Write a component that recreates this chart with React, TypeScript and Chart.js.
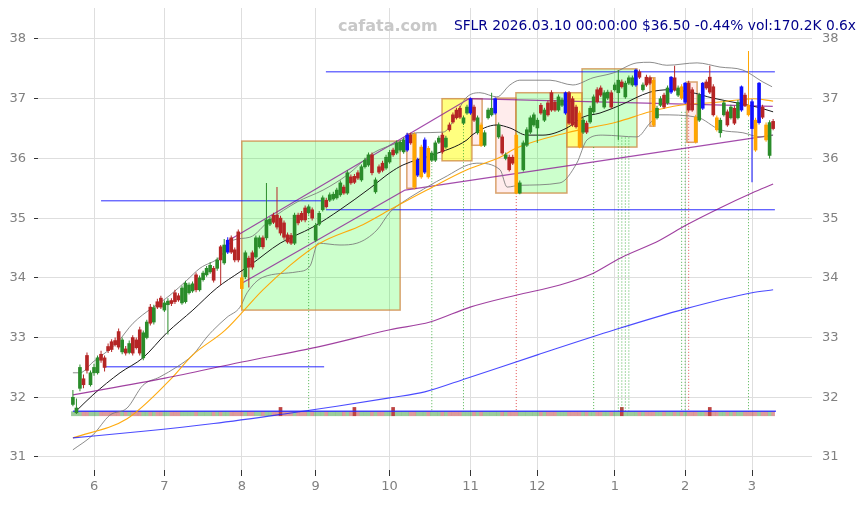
import React, { useEffect, useRef } from 'react';
import { Chart, registerables } from 'chart.js';
Chart.register(...registerables);

// ---- axes ----
const monthLabels = ['6', '7', '8', '9', '10', '11', '12', '1', '2', '3'];
const monthStartIdx = [6, 26, 48, 69, 90, 113, 132, 154, 174, 193];
const yTickValues = [31, 32, 33, 34, 35, 36, 37, 38];

// ---- candles (trading-day index 0..199) ----
const opens = [
  31.88, 31.74, 32.15, 32.31, 32.70, 32.21, 32.41, 32.41, 32.72, 32.66,
  32.85, 32.93, 32.95, 33.10, 32.76, 32.81, 32.75, 33.00, 32.96, 33.13,
  32.66, 33.00, 33.51, 33.26, 33.60, 33.66, 33.46, 33.55, 33.62, 33.75,
  33.70, 33.58, 33.60, 33.75, 33.78, 34.05, 33.80, 33.97, 34.05, 34.10,
  34.16, 34.16, 34.52, 34.25, 34.43, 34.67, 34.47, 34.77, 34.00, 34.02,
  34.33, 34.42, 34.35, 34.52, 34.67, 34.67, 34.90, 35.05, 35.05, 35.00,
  34.92, 34.72, 34.71, 34.58, 35.05, 35.08, 35.17, 35.09, 35.14, 34.63,
  34.90, 35.14, 35.30, 35.30, 35.32, 35.34, 35.39, 35.52, 35.42, 35.69,
  35.70, 35.76, 35.64, 35.86, 35.89, 36.06, 35.44, 35.86, 35.92, 35.84,
  35.94, 36.14, 36.09, 36.14, 36.11, 36.14, 36.39, 36.40, 35.72, 35.69,
  35.77, 36.17, 35.97, 35.97, 36.27, 36.39, 36.19, 36.56, 36.73, 36.81,
  36.84, 36.59, 36.76, 36.76, 36.86, 36.43, 36.56, 36.22, 36.68, 36.73,
  36.76, 36.36, 36.36, 36.00, 36.02, 36.02, 36.39, 35.42, 35.81, 36.22,
  36.44, 36.56, 36.51, 36.89, 36.64, 36.93, 37.10, 36.94, 36.81, 36.89,
  36.76, 37.10, 37.00, 36.86, 36.76, 36.44, 36.59, 36.61, 36.78, 37.15,
  37.18, 36.86, 37.01, 37.10, 37.15, 37.10, 37.28, 37.03, 37.26, 37.23,
  37.23, 37.45, 37.15, 37.36, 37.35, 37.31, 36.68, 36.89, 37.06, 36.93,
  37.11, 37.35, 37.06, 37.20, 36.94, 37.26, 37.15, 36.69, 36.64, 36.84,
  37.28, 37.36, 37.20, 36.68, 36.43, 36.73, 36.78, 36.68, 36.84, 36.68,
  36.81, 37.06, 36.89, 36.95, 36.64, 36.60, 36.86, 36.56, 36.05, 36.62,
];
const highs = [
  32.12, 31.98, 32.55, 32.38, 32.75, 32.45, 32.56, 32.70, 32.78, 32.70,
  32.90, 32.97, 33.00, 33.15, 33.00, 32.86, 32.95, 33.04, 33.00, 33.18,
  33.12, 33.30, 33.56, 33.55, 33.65, 33.70, 33.62, 33.66, 33.66, 33.80,
  33.74, 33.87, 33.95, 33.92, 33.94, 34.09, 34.04, 34.12, 34.20, 34.26,
  34.20, 34.34, 34.55, 34.65, 34.68, 34.71, 34.51, 34.81, 34.05, 34.46,
  34.37, 34.46, 34.71, 34.71, 34.71, 35.59, 35.02, 35.09, 35.52, 35.04,
  34.96, 34.76, 34.75, 35.09, 35.09, 35.12, 35.21, 35.23, 35.18, 34.92,
  35.12, 35.38, 35.34, 35.43, 35.44, 35.51, 35.63, 35.56, 35.80, 35.73,
  35.74, 35.80, 35.90, 36.01, 36.10, 36.10, 35.68, 35.90, 35.96, 36.06,
  36.14, 36.18, 36.30, 36.31, 36.35, 36.43, 36.43, 36.44, 36.01, 36.23,
  36.35, 36.21, 36.13, 36.30, 36.38, 36.43, 36.38, 36.60, 36.77, 36.85,
  36.88, 36.72, 36.90, 37.02, 36.90, 36.72, 36.60, 36.47, 36.85, 37.10,
  37.02, 36.60, 36.40, 36.10, 36.06, 36.06, 36.42, 35.63, 36.30, 36.52,
  36.72, 36.77, 36.68, 36.93, 36.85, 36.97, 37.14, 36.98, 37.07, 37.02,
  37.12, 37.13, 37.04, 36.90, 36.80, 36.68, 36.63, 36.88, 37.07, 37.19,
  37.22, 37.14, 37.15, 37.14, 37.27, 37.48, 37.32, 37.30, 37.39, 37.39,
  37.50, 37.49, 37.27, 37.40, 37.39, 37.35, 36.88, 37.04, 37.10, 37.22,
  37.38, 37.55, 37.22, 37.24, 37.28, 37.30, 37.19, 36.73, 37.10, 37.28,
  37.32, 37.55, 37.24, 36.72, 36.68, 36.97, 36.82, 36.90, 36.88, 36.98,
  37.22, 37.10, 37.80, 36.99, 36.68, 37.28, 36.90, 36.60, 36.64, 36.66,
];
const lows = [
  31.85, 31.72, 32.10, 32.15, 32.40, 32.18, 32.36, 32.38, 32.58, 32.43,
  32.74, 32.76, 32.85, 32.80, 32.72, 32.70, 32.72, 32.70, 32.80, 32.70,
  32.62, 32.97, 33.20, 33.22, 33.48, 33.48, 33.43, 33.05, 33.53, 33.56,
  33.60, 33.55, 33.57, 33.72, 33.75, 33.76, 33.77, 33.94, 34.02, 34.07,
  33.92, 34.12, 33.88, 34.22, 34.40, 34.40, 34.26, 34.26, 33.47, 33.98,
  33.84, 34.14, 34.32, 34.49, 34.48, 34.63, 34.87, 34.90, 34.81, 34.71,
  34.64, 34.57, 34.55, 34.55, 34.88, 34.94, 34.93, 35.06, 34.96, 34.60,
  34.87, 35.11, 35.16, 35.27, 35.29, 35.31, 35.36, 35.39, 35.39, 35.56,
  35.57, 35.64, 35.61, 35.83, 35.86, 35.72, 35.41, 35.74, 35.77, 35.81,
  35.91, 36.03, 36.06, 36.11, 36.08, 36.11, 36.23, 35.48, 35.69, 35.66,
  35.74, 35.66, 35.94, 35.94, 36.24, 36.08, 36.16, 36.45, 36.58, 36.65,
  36.66, 36.56, 36.73, 36.73, 36.61, 36.40, 36.19, 36.19, 36.65, 36.70,
  36.73, 36.33, 36.06, 35.97, 35.78, 35.89, 35.40, 35.40, 35.78, 36.19,
  36.41, 36.53, 36.26, 36.73, 36.61, 36.70, 36.78, 36.78, 36.78, 36.86,
  36.73, 36.56, 36.53, 36.50, 36.17, 36.41, 36.41, 36.58, 36.75, 36.92,
  37.03, 36.83, 36.98, 36.83, 37.12, 36.31, 37.17, 37.00, 37.23, 37.20,
  37.20, 37.33, 37.12, 37.20, 37.23, 36.53, 36.65, 36.86, 36.83, 36.90,
  37.08, 37.12, 37.03, 36.98, 36.91, 36.78, 36.78, 36.25, 36.61, 36.81,
  37.15, 37.08, 36.70, 36.45, 36.35, 36.70, 36.53, 36.65, 36.56, 36.65,
  36.78, 36.86, 36.70, 35.60, 36.11, 36.57, 36.66, 36.28, 36.00, 36.47,
];
const closes = [
  32.00, 31.82, 32.50, 32.21, 32.45, 32.41, 32.50, 32.66, 32.62, 32.50,
  32.78, 32.80, 32.88, 32.84, 32.96, 32.74, 32.90, 32.74, 32.83, 32.74,
  33.08, 33.26, 33.24, 33.50, 33.51, 33.51, 33.58, 33.61, 33.57, 33.60,
  33.63, 33.83, 33.91, 33.88, 33.90, 33.80, 34.00, 34.08, 34.16, 34.21,
  33.96, 34.30, 34.30, 34.55, 34.63, 34.43, 34.30, 34.30, 33.82, 34.42,
  34.18, 34.18, 34.67, 34.67, 34.52, 34.97, 34.98, 34.93, 34.85, 34.75,
  34.68, 34.60, 34.58, 35.05, 34.92, 34.97, 34.97, 35.19, 35.00, 34.88,
  35.08, 35.34, 35.19, 35.39, 35.40, 35.47, 35.59, 35.42, 35.76, 35.59,
  35.60, 35.67, 35.86, 35.97, 36.06, 35.76, 35.64, 35.77, 35.80, 36.02,
  36.10, 36.06, 36.26, 36.27, 36.31, 36.39, 36.26, 35.52, 35.97, 36.19,
  36.31, 35.69, 36.09, 36.26, 36.34, 36.11, 36.34, 36.48, 36.61, 36.68,
  36.69, 36.68, 36.86, 37.00, 36.64, 36.68, 36.22, 36.43, 36.81, 36.84,
  37.00, 36.56, 36.09, 36.06, 35.81, 35.92, 35.42, 35.59, 36.26, 36.48,
  36.68, 36.73, 36.64, 36.76, 36.81, 36.73, 36.81, 36.81, 37.03, 36.98,
  37.10, 36.59, 36.56, 36.53, 36.19, 36.64, 36.44, 36.84, 37.03, 36.95,
  37.06, 37.10, 37.11, 36.86, 37.23, 37.31, 37.20, 37.26, 37.35, 37.35,
  37.48, 37.36, 37.23, 37.23, 37.26, 36.56, 36.84, 37.00, 36.86, 37.18,
  37.36, 37.15, 37.18, 37.01, 37.26, 36.81, 36.81, 36.28, 37.06, 37.26,
  37.18, 37.11, 36.73, 36.48, 36.64, 36.93, 36.56, 36.86, 36.59, 36.94,
  37.20, 36.89, 36.73, 36.50, 36.14, 37.26, 36.69, 36.31, 36.60, 36.50,
];
// g = up, r = down, b = blue marked, o = orange marked
const candleKinds =
  'gggrrgggrrrrrrgrgrrr' + 'ggrgrrggrrrggggrgggg' + 'rgrgbrrrogrrggrggrrr' +
  'rrrgrrrgrgggrggggrgr' + 'rrgggrgrrggrgggbrobo' + 'bogggrgrrrrggbrgoggg' +
  'bgrgrroggggggrgrrrgg' + 'brrrogrggrrggrggrggg' + 'brgrroggrgbrgobrrogb' +
  'rrroggrgrgbrobobrogr';
// relative volume (bars at bottom)
const volumes = [
  1, 1, 1, 1, 1, 1, 1, 1, 1, 1, 1, 1, 1, 1, 1, 1, 1, 1, 1, 1,
  1, 1, 1, 1, 1, 1, 1, 1, 1, 1, 1, 1, 1, 1, 1, 1, 1, 1, 1, 1,
  1, 1, 1, 1, 1, 1, 1, 1, 1, 1, 1, 1, 1, 1, 1, 1, 1, 1, 1, 2,
  1, 1, 1, 1, 1, 1, 1, 1, 1, 1, 1, 1, 1, 1, 1, 1, 1, 1, 1, 1,
  2, 1, 1, 1, 1, 1, 1, 1, 1, 1, 1, 2, 1, 1, 1, 1, 1, 1, 1, 1,
  1, 1, 1, 1, 1, 1, 1, 1, 1, 1, 1, 1, 1, 1, 1, 1, 1, 1, 1, 1,
  1, 1, 1, 1, 1, 1, 1, 1, 1, 1, 1, 1, 1, 1, 1, 1, 1, 1, 1, 1,
  1, 1, 1, 1, 1, 1, 1, 1, 1, 1, 1, 1, 1, 1, 1, 1, 2, 1, 1, 1,
  1, 1, 1, 1, 1, 1, 1, 1, 1, 1, 1, 1, 1, 1, 1, 1, 1, 1, 1, 1,
  1, 2, 1, 1, 1, 1, 1, 1, 1, 1, 1, 1, 1, 1, 1, 1, 1, 1, 1, 1,
];

// ---- indicator lines: [index, price] ----
const ma20Pts = [
  [0.6, 31.75], [5.7, 32.04], [13.4, 32.41], [19.9, 32.66], [26.7, 33.08], [34.1, 33.46],
  [40.9, 33.83], [47.5, 34.10], [50.3, 34.21], [58.9, 34.58], [68.2, 34.85], [75.9, 35.14],
  [84.4, 35.50], [90.1, 35.76], [93.8, 35.89], [102.3, 36.06], [112, 36.31], [113.4, 36.39],
  [120.5, 36.56], [124.2, 36.51], [129, 36.39], [133.6, 36.39], [140.4, 36.51], [144.9, 36.69],
  [149.8, 36.76], [155.5, 36.89], [164, 37.11], [169.7, 37.15], [175.4, 37.11], [181.9, 37.01],
  [188.7, 36.93], [194.4, 36.86], [199, 36.78],
];
const bbUpperPts = [
  [0, 32.41], [2, 32.41], [5.7, 32.59], [12.5, 32.91], [17.1, 33.24], [27.6, 33.71], [32.4, 33.96],
  [36.1, 34.16], [41.8, 34.35], [45.5, 34.63], [50.3, 34.68], [56, 34.97], [63.7, 35.27],
  [71.1, 35.47], [77.9, 35.72], [85.3, 36.09], [92.1, 36.26], [97.8, 36.43], [105.2, 36.44],
  [112, 37.03], [115.7, 37.10], [120.5, 37.03], [124.2, 37.23], [127, 37.31], [135.6, 37.31],
  [142.1, 37.23], [147.8, 37.35], [153.5, 37.43], [160.3, 37.60], [164, 37.61], [168.8, 37.56],
  [177.4, 37.60], [183.9, 37.53], [190.4, 37.48], [196.1, 37.28], [198.7, 37.20],
];
const bbLowerPts = [
  [0, 31.12], [5.7, 31.37], [10.5, 31.70], [15.4, 31.82], [19.9, 32.20], [24.7, 32.34],
  [29.6, 32.51], [34.1, 32.71], [38.1, 33.01], [39.8, 33.12], [43.8, 33.34], [47.5, 33.51],
  [49.5, 33.75], [54, 34.01], [63.7, 34.10], [67.4, 34.20], [69.7, 34.58], [75.9, 34.55],
  [80.7, 34.58], [86.4, 34.80], [90.1, 35.10], [93.8, 35.27], [97.8, 35.42], [105.2, 35.67],
  [114.8, 35.92], [121.4, 35.81], [123.4, 35.52], [127, 35.55], [138.4, 35.59], [143.2, 35.92],
  [146.1, 36.31], [150.6, 36.39], [160.3, 36.36], [164, 36.59], [166.8, 36.73], [177.4, 36.69],
  [183.9, 36.48], [190.4, 36.43], [195.3, 36.36], [199, 36.39],
];
const ma50Pts = [
  [0, 31.32], [15.4, 31.64], [27.6, 32.29], [34.1, 32.71], [43.2, 33.12], [54, 33.80],
  [61.7, 34.21], [70.2, 34.58], [82.4, 34.89], [90.1, 35.14], [100.6, 35.47], [112, 35.81],
  [121.4, 36.02], [125.9, 36.17], [140.4, 36.43], [154.6, 36.61], [164, 36.78], [172.5, 36.89],
  [183, 36.94], [193.3, 37.00], [199, 36.96],
];
const ma100Pts = [
  [0, 32.04], [26.2, 32.32], [48, 32.59], [69.4, 32.84], [90.1, 33.13], [101.5, 33.26],
  [112.9, 33.51], [125.9, 33.71], [138.4, 33.88], [146.9, 34.05], [155.5, 34.33], [166.8, 34.63],
  [174.2, 34.88], [183.9, 35.17], [193, 35.42], [199, 35.57],
];
const ma200Pts = [
  [0, 31.32], [20, 31.43], [40, 31.56], [60, 31.72], [75, 31.85], [90, 31.99], [100, 32.09],
  [112, 32.32], [132, 32.71], [154, 33.13], [174, 33.48], [193, 33.75], [199, 33.80],
];

// ---- horizontal levels ----
const levelValues = [32.51, 35.29, 35.14, 37.45];
const levelFrom = [8.6, 8.0, 71.9, 71.9];
const levelTo = [71.4, 71.4, 199.5, 199.5];

// ---- trend lines (purple) ----
const trendStart = [[44.1, 34.62], [48.0, 33.91], [94.4, 35.47], [112.9, 37.0]];
const trendEnd = [[112.9, 37.01], [94.4, 35.47], [198.9, 36.39], [198.9, 36.87]];

// ---- signal markers (dotted verticals) ----
const signalIdx = [67, 102, 111, 126, 148, 155, 156, 157, 158, 173, 174, 175, 192];
const signalTop = [35.05, 35.97, 36.64, 35.42, 36.19, 36.35, 36.35, 36.35, 36.35, 36.78, 36.78, 36.78, 36.64];
const signalKinds = 'gggrgggggggrg';
const signalBottom = 31.76;

// ---- zones (boxes) ----
const boxX0 = [48.0, 94.9, 104.9, 113.4, 120.2, 125.9, 140.4, 144.7, 164.0, 174.5];
const boxX1 = [93.0, 97.5, 113.4, 116.3, 125.9, 140.4, 144.7, 160.3, 165.4, 177.4];
const boxTop = [36.29, 36.41, 37.0, 37.0, 37.01, 37.1, 37.1, 37.5, 37.35, 37.28];
const boxBottom = [33.46, 35.5, 35.96, 36.22, 35.42, 35.42, 36.19, 36.19, 36.54, 36.27];
const boxKinds = 'gpyppgygpp';

const volumeLine = [[0, 31.765], [199.8, 31.765]];

// ---- styling ----
const X_MIN = -9.92, X_MAX = 210.05, Y_MIN = 30.782, Y_MAX = 38.519;
const VOL_BASE = 31.69, VOL_UNIT = 0.07;
const kindColor: Record<string, string> = { g: '#2a8c2a', r: '#b52525', b: '#1010ff', o: '#ffa500' };
const boxFill: Record<string, string> = {
  g: 'rgba(0,255,0,0.2)', y: 'rgba(255,255,0,0.5)', p: 'rgba(255,150,150,0.18)',
};
const FONT = { family: 'DejaVu Sans', size: 13 };

const pts = (a: number[][]) => a.map(([x, y]) => ({ x, y }));

const zeroPad = (axis: any) => {
  axis.paddingTop = 0;
  axis.paddingBottom = 0;
  axis.paddingLeft = 0;
  axis.paddingRight = 0;
};

const boxPlugin = {
  id: 'zoneBoxes',
  beforeDatasetsDraw(chart: any) {
    const { ctx, chartArea, scales } = chart;
    const xs = scales.x, ys = scales.y;
    ctx.save();
    ctx.beginPath();
    ctx.rect(chartArea.left, chartArea.top, chartArea.width, chartArea.height);
    ctx.clip();
    for (let k = 0; k < boxX0.length; k++) {
      const x0 = xs.getPixelForValue(boxX0[k]);
      const x1 = xs.getPixelForValue(boxX1[k]);
      const y0 = ys.getPixelForValue(boxTop[k]);
      const y1 = ys.getPixelForValue(boxBottom[k]);
      ctx.fillStyle = boxFill[boxKinds[k]];
      ctx.fillRect(x0, y0, x1 - x0, y1 - y0);
      ctx.strokeStyle = 'rgba(205,133,63,0.75)';
      ctx.lineWidth = 1.5;
      ctx.strokeRect(x0, y0, x1 - x0, y1 - y0);
    }
    ctx.restore();
  },
};

export default function App() {
  const ref = useRef<HTMLCanvasElement>(null);
  useEffect(() => {
    const idx = opens.map((_, i) => i);
    const colors = idx.map((i) => kindColor[candleKinds[i]]);
    const lineDs = (data: any[], color: string, width: number, extra: any = {}) => ({
      type: 'line',
      data,
      borderColor: color,
      borderWidth: width,
      pointRadius: 0,
      fill: false,
      tension: 0,
      order: 3,
      ...extra,
    });
    const datasets: any[] = [];
    datasets.push({
      type: 'bar',
      data: idx.map((i) => ({ x: i, y: [VOL_BASE, VOL_BASE + volumes[i] * VOL_UNIT] })),
      backgroundColor: idx.map((i) => {
        const up = closes[i] >= opens[i];
        const a = volumes[i] > 1.5 ? 0.85 : 0.45;
        return up ? `rgba(34,139,34,${a})` : `rgba(178,34,34,${a})`;
      }),
      barThickness: 3,
      grouped: false,
      order: 6,
    });
    datasets.push(lineDs(pts(volumeLine), 'rgba(40,40,255,0.85)', 1.6, { order: 5 }));
    signalIdx.forEach((s, k) => {
      datasets.push(lineDs([{ x: s, y: signalTop[k] }, { x: s, y: signalBottom }],
        signalKinds[k] === 'g' ? 'rgba(34,160,34,0.8)' : 'rgba(220,40,40,0.8)', 1,
        { borderDash: [1, 2], order: 5 }));
    });
    datasets.push(lineDs(pts(ma200Pts), 'rgba(30,30,255,0.8)', 1.1, { cubicInterpolationMode: 'monotone' }));
    datasets.push(lineDs(pts(ma100Pts), 'rgba(128,0,128,0.75)', 1.1, { cubicInterpolationMode: 'monotone' }));
    datasets.push(lineDs(pts(ma50Pts), 'rgba(255,165,0,0.95)', 1.1, { cubicInterpolationMode: 'monotone' }));
    datasets.push(lineDs(pts(bbUpperPts), 'rgba(120,120,120,0.85)', 1, { cubicInterpolationMode: 'monotone' }));
    datasets.push(lineDs(pts(bbLowerPts), 'rgba(120,120,120,0.85)', 1, { cubicInterpolationMode: 'monotone' }));
    datasets.push(lineDs(pts(ma20Pts), '#1a1a1a', 1, { cubicInterpolationMode: 'monotone' }));
    levelValues.forEach((v, k) => {
      datasets.push(lineDs([{ x: levelFrom[k], y: v }, { x: levelTo[k], y: v }], 'rgba(20,20,255,0.9)', 1));
    });
    trendStart.forEach((p, k) => {
      datasets.push(lineDs([{ x: p[0], y: p[1] }, { x: trendEnd[k][0], y: trendEnd[k][1] }],
        'rgba(140,30,150,0.8)', 1.2));
    });
    datasets.push({
      type: 'bar',
      data: idx.map((i) => ({ x: i, y: [lows[i], highs[i]] })),
      backgroundColor: colors,
      barThickness: 1,
      inflateAmount: 0,
      grouped: false,
      order: 2,
    });
    datasets.push({
      type: 'bar',
      data: idx.map((i) => ({ x: i, y: [opens[i], closes[i]] })),
      backgroundColor: colors,
      barThickness: 3,
      minBarLength: 1,
      grouped: false,
      order: 1,
    });

    const yScaleBase = {
      type: 'linear',
      min: Y_MIN,
      max: Y_MAX,
      afterBuildTicks: (axis: any) => { axis.ticks = yTickValues.map((v) => ({ value: v })); },
      border: { display: false },
    };

    const chart = new Chart(ref.current as HTMLCanvasElement, {
      type: 'bar',
      data: { datasets },
      plugins: [boxPlugin],
      options: {
        animation: false,
        responsive: true,
        maintainAspectRatio: false,
        layout: { padding: 0 },
        events: [],
        plugins: { legend: { display: false }, tooltip: { enabled: false }, title: { display: false } },
        scales: {
          x: {
            type: 'linear',
            min: X_MIN,
            max: X_MAX,
            offset: false,
            afterBuildTicks: (axis: any) => { axis.ticks = monthStartIdx.map((v) => ({ value: v })); },
            afterFit: (axis: any) => { axis.height = 27; zeroPad(axis); },
            ticks: {
              autoSkip: false,
              maxRotation: 0,
              color: '#808080',
              font: FONT,
              padding: 3,
              callback: (v: any) => {
                const k = monthStartIdx.indexOf(Number(v));
                return k >= 0 ? monthLabels[k] : '';
              },
            },
            grid: { color: '#dedede', tickColor: '#333333', tickLength: 6, offset: false },
            border: { display: false },
          },
          y: {
            ...yScaleBase,
            position: 'left',
            afterFit: (axis: any) => { axis.width = 30; zeroPad(axis); },
            ticks: { color: '#808080', font: FONT, padding: 8 },
            grid: { color: '#dedede', tickColor: '#333333', tickLength: 4 },
          },
          y2: {
            ...yScaleBase,
            position: 'right',
            afterFit: (axis: any) => { axis.width = 46; zeroPad(axis); },
            ticks: { color: '#808080', font: FONT, padding: 10 },
            grid: { display: false, drawTicks: false },
          },
        },
      } as any,
    } as any);
    return () => chart.destroy();
  }, []);

  return (
    <div style={{ position: 'relative', width: 850, height: 489 }}>
      <canvas ref={ref} />
      <div
        style={{
          position: 'absolute', left: 330, top: 9.5, font: 'bold 16px "DejaVu Sans"',
          lineHeight: '16px', color: '#c8c8c8', whiteSpace: 'nowrap', pointerEvents: 'none',
        }}
      >
        cafata.com
      </div>
      <div
        style={{
          position: 'absolute', right: 2, top: 11.4, font: '13.8px "DejaVu Sans"',
          lineHeight: '13.8px', color: '#00008b', whiteSpace: 'nowrap', pointerEvents: 'none',
        }}
      >
        SFLR 2026.03.10 00:00:00 $36.50 -0.44% vol:170.2K 0.6x
      </div>
    </div>
  );
}
